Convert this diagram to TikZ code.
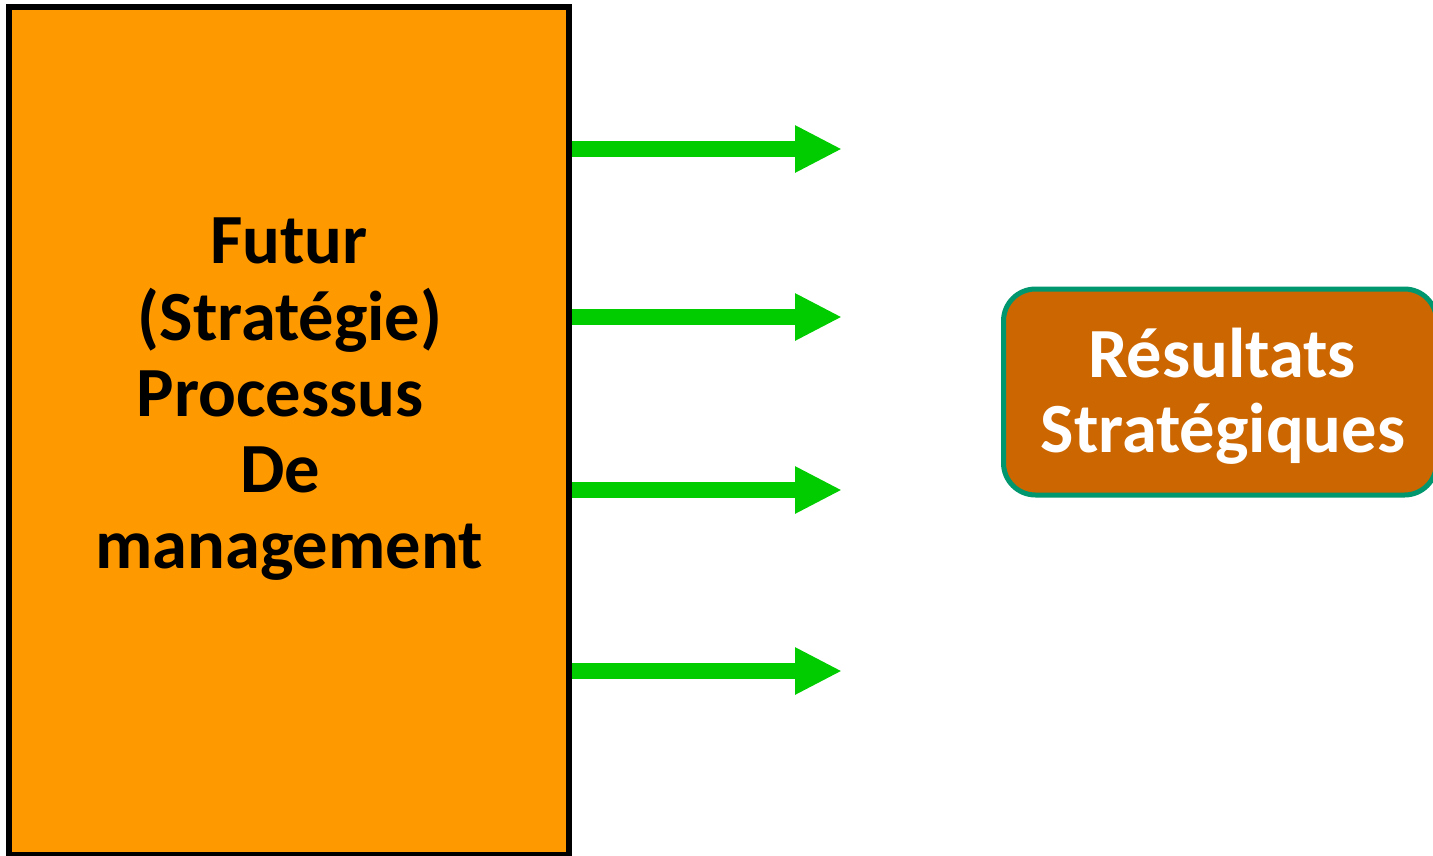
\documentclass[tikz,border=0pt]{standalone}
\usepackage{fontspec}
\setmainfont{Carlito}
\usetikzlibrary{arrows.meta}
\definecolor{boxorange}{RGB}{255,153,0}
\definecolor{arrowgreen}{RGB}{0,204,0}
\definecolor{resfill}{RGB}{204,102,0}
\definecolor{resborder}{RGB}{0,150,110}
\tikzset{
  mainbox/.style={draw=black, line width=6pt, fill=boxorange, rectangle,
    minimum width=560pt, minimum height=848pt, inner sep=0pt},
  resultbox/.style={draw=resborder, line width=5pt, fill=resfill, rectangle,
    rounded corners=32pt, minimum width=433pt, minimum height=206pt, inner sep=0pt},
  bigtext/.style={font=\bfseries\fontsize{70.5}{77}\selectfont, inner sep=0pt, anchor=base},
  flow/.style={draw=arrowgreen, line width=16pt,
    -{Triangle[length=47pt,width=44pt]}, arrowgreen},
}
\begin{document}
\begin{tikzpicture}[x=1pt,y=-1pt]
\useasboundingbox (0,0) rectangle (1433,855);
\fill[white] (0,0) rectangle (1433,855);

% management process box
\node[mainbox] (strat) at (289,431) {};
\node[bigtext] (l1) at (289,263) {Futur};
\node[bigtext] (l2) at (290,340) {(Stratégie)};
\node[bigtext] (l3) at (280,416) {Processus};
\node[bigtext] (l4) at (280,492) {De};
\node[bigtext] (l5) at (289,568) {management};

% strategic results box
\node[resultbox] (res) at (1220,392) {};
\node[bigtext, text=white] (r1) at (1222,377) {Résultats};
\node[bigtext, text=white] (r2) at (1223,452) {Stratégiques};

% arrow tips
\coordinate (t1) at (842,149);
\coordinate (t2) at (842,317);
\coordinate (t3) at (842,490);
\coordinate (t4) at (842,671);

\draw[flow] (strat.east |- t1) -- (t1);
\draw[flow] (strat.east |- t2) -- (t2);
\draw[flow] (strat.east |- t3) -- (t3);
\draw[flow] (strat.east |- t4) -- (t4);
\end{tikzpicture}
\end{document}
